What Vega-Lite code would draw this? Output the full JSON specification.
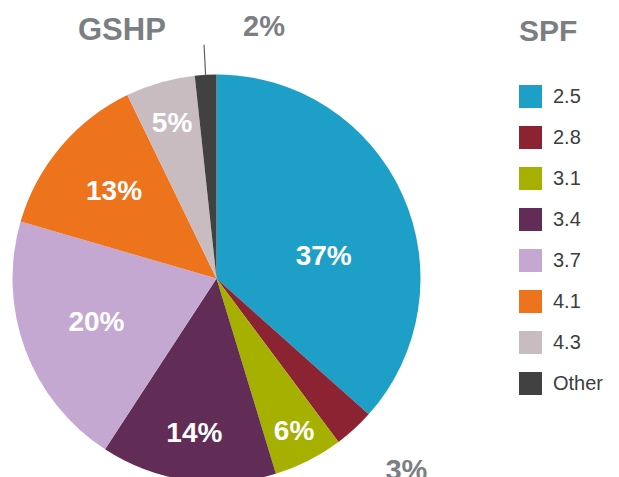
{
  "$schema": "https://vega.github.io/schema/vega-lite/v6.json",
  "width": 433,
  "height": 557,
  "autosize": {"type": "none"},
  "padding": {"left": 0, "top": 0, "right": 186, "bottom": 0},
  "background": "white",
  "title": {"text": "GSHP", "anchor": "start", "frame": "group", "offset": -47, "dx": 78, "fontSize": 31, "fontWeight": "bold", "color": "#7b7f83", "font": "Liberation Sans"},
  "data": {
    "values": [
      {"spf": "2.5", "value": 36.6, "k": 1, "label": "37%"},
      {"spf": "2.8", "value": 3.2, "k": 2, "label": "3%"},
      {"spf": "3.1", "value": 5.5, "k": 3, "label": "6%"},
      {"spf": "3.4", "value": 13.9, "k": 4, "label": "14%"},
      {"spf": "3.7", "value": 20.3, "k": 5, "label": "20%"},
      {"spf": "4.1", "value": 13.3, "k": 6, "label": "13%"},
      {"spf": "4.3", "value": 5.5, "k": 7, "label": "5%"},
      {"spf": "Other", "value": 1.7, "k": 8, "label": "2%"}
    ]
  },
  "encoding": {
    "theta": {"field": "value", "type": "quantitative", "stack": true},
    "order": {"field": "k", "type": "quantitative"}
  },
  "layer": [
    {
      "mark": {"type": "arc", "radius": 204},
      "encoding": {
        "color": {
          "field": "spf", "type": "nominal",
          "scale": {
            "domain": ["2.5", "2.8", "3.1", "3.4", "3.7", "4.1", "4.3", "Other"],
            "range": ["#1e9fc7", "#8c2332", "#a5b000", "#612c55", "#c5a8d2", "#ee731d", "#c9bcc0", "#414141"]
          },
          "legend": {
            "title": "SPF",
            "orient": "none",
            "legendX": 519,
            "legendY": 17,
            "padding": 0,
            "titleFont": "Liberation Sans",
            "titleFontSize": 30,
            "titleFontWeight": "bold",
            "titleColor": "#7b7f83",
            "titlePadding": 38,
            "titleBaseline": "top",
            "symbolType": "square",
            "symbolSize": 529,
            "symbolStrokeWidth": 0,
            "symbolOffset": 0,
            "rowPadding": 18,
            "labelFont": "Liberation Sans",
            "labelFontSize": 20,
            "labelColor": "#3d3d3d",
            "labelOffset": 11
          }
        }
      }
    },
    {
      "mark": {"type": "arc", "radius": 204, "radius2": 234, "padAngle": 1, "fillOpacity": 0, "stroke": "#5b5f63", "strokeWidth": 1.2},
      "encoding": {
        "strokeOpacity": {"condition": {"test": "datum.spf === 'Other'", "value": 1}, "value": 0}
      }
    },
    {
      "mark": {"type": "text", "fontSize": 28, "fontWeight": "bold", "fill": "white", "font": "Liberation Sans", "baseline": "middle", "align": "center", "radius": 128},
      "encoding": {
        "text": {"condition": {"test": "datum.spf === '3.7'", "field": "label", "type": "nominal"}, "value": ""}
      }
    },
    {
      "mark": {"type": "text", "fontSize": 28, "fontWeight": "bold", "fill": "white", "font": "Liberation Sans", "baseline": "middle", "align": "center", "radius": 172},
      "encoding": {
        "text": {"condition": {"test": "datum.spf === '3.1'", "field": "label", "type": "nominal"}, "value": ""}
      }
    },
    {
      "mark": {"type": "text", "fontSize": 28, "fontWeight": "bold", "fill": "white", "font": "Liberation Sans", "baseline": "middle", "align": "center", "radius": 157},
      "encoding": {
        "text": {"condition": {"test": "datum.spf === '3.4'", "field": "label", "type": "nominal"}, "value": ""}
      }
    },
    {
      "mark": {"type": "text", "fontSize": 28, "fontWeight": "bold", "fill": "white", "font": "Liberation Sans", "baseline": "middle", "align": "center", "radius": 134},
      "encoding": {
        "text": {"condition": {"test": "datum.spf === '4.1'", "field": "label", "type": "nominal"}, "value": ""}
      }
    },
    {
      "mark": {"type": "text", "fontSize": 28, "fontWeight": "bold", "fill": "white", "font": "Liberation Sans", "baseline": "middle", "align": "center", "radius": 161},
      "encoding": {
        "text": {"condition": {"test": "datum.spf === '4.3'", "field": "label", "type": "nominal"}, "value": ""}
      }
    },
    {
      "mark": {"type": "text", "fontSize": 28, "fontWeight": "bold", "fill": "white", "font": "Liberation Sans", "baseline": "middle", "align": "center", "radius": 112, "dx": 5, "dy": 24},
      "encoding": {
        "text": {"condition": {"test": "datum.spf === '2.5'", "field": "label", "type": "nominal"}, "value": ""}
      }
    },
    {
      "mark": {"type": "text", "fontSize": 29, "fontWeight": "bold", "fill": "#7b7f83", "font": "Liberation Sans", "baseline": "middle", "align": "center", "radius": 252, "dx": 61, "dy": 0},
      "encoding": {
        "text": {"condition": {"test": "datum.spf === 'Other'", "field": "label", "type": "nominal"}, "value": ""}
      }
    },
    {
      "mark": {"type": "text", "fontSize": 29, "fontWeight": "bold", "fill": "#7b7f83", "font": "Liberation Sans", "baseline": "middle", "align": "center", "radius": 262, "dx": 13, "dy": -1},
      "encoding": {
        "text": {"condition": {"test": "datum.spf === '2.8'", "field": "label", "type": "nominal"}, "value": ""}
      }
    }
  ]
}
